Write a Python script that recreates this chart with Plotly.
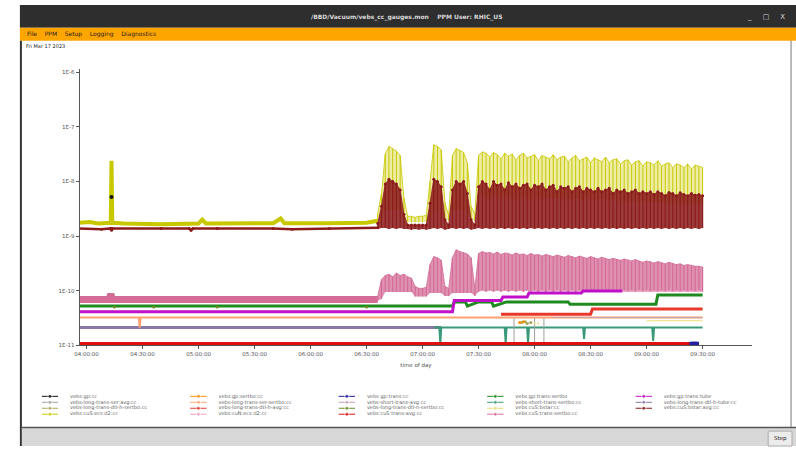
import numpy as np
import pandas as pd
import plotly.graph_objects as go

W, H = 796, 449
BASE = pd.Timestamp("2023-03-17 04:00:00")

# ---------------- data (time in minutes after 04:00) ----------------
grid_dense = np.arange(156, 332, 2)   # 88 decimation buckets (min / max per bucket)

# yellow gauge, units 1e-9
yellow_flat_t = [-4, 2, 6, 12, 13, 13.4, 13.8, 20, 40, 60, 62, 64, 90, 100, 104, 106, 130, 150, 156]
yellow_flat_v = [1.75, 1.8, 1.7, 1.7, 1.75, 24, 1.75, 1.7, 1.65, 1.7, 2.0, 1.7, 1.7, 1.72, 2.1, 1.72, 1.72, 1.75, 1.9]
yellow_hi = [2.6, 6, 32, 44, 40, 36, 30, 5,
             2.3, 2.3, 2.2, 2.3, 2.3, 2.4, 10, 47, 44, 38, 4, 2.4,
             30, 40, 37, 34, 22, 3.5, 2.5,
             30, 35, 33, 28, 34, 31, 26, 33, 29, 32,
             25, 30, 33, 27, 29, 31, 24, 30, 28, 26,
             31, 25, 28, 29, 23, 27, 30, 24, 26, 28,
             22, 27, 25, 23, 28, 22, 25, 26, 21, 24,
             25, 20, 23, 24, 19, 23, 22, 20, 24, 19,
             21, 22, 18, 21, 20, 18, 21, 17, 20, 19,
             18]
yellow_lo = [1.9, 2.0, 3, 3, 3, 3, 3, 2.0,
             1.8, 1.8, 1.8, 1.8, 1.8, 1.8, 2.0, 3, 3, 3, 1.9, 1.9,
             3, 3, 3, 3, 3, 1.9, 1.9,
             5, 5.5, 5, 4.5, 5.5, 5, 4.5, 5.5, 5, 5,
             4.5, 5, 5.5, 5, 4.5, 5, 5, 4.5, 5, 5,
             4.8, 5, 4.5, 5, 4.8, 4.5, 5, 4.8, 4.5, 5,
             4.5, 4.8, 4.5, 5, 4.5, 4.2, 4.8, 4.5, 4.2, 4.5,
             4.2, 4.5, 4.2, 4, 4.5, 4.2, 4, 4.2, 4, 4.2,
             4, 3.8, 4.2, 4, 3.8, 4, 3.8, 4, 3.8, 3.8,
             3.8]

# maroon gauge, units 1e-9
maroon_flat_t = [-4, 8, 13, 13.4, 13.8, 40, 55, 56, 57, 70, 100, 110, 130, 156]
maroon_flat_v = [1.38, 1.33, 1.38, 1.28, 1.38, 1.38, 1.38, 1.28, 1.38, 1.38, 1.38, 1.33, 1.38, 1.42]
maroon_hi = [1.7, 3.5, 9, 11, 10, 9, 7, 2.5,
             1.6, 1.6, 1.6, 1.6, 1.6, 1.6, 4, 11, 10, 8, 2, 1.6,
             7, 10, 9, 10, 6, 2, 1.6,
             8, 10, 9, 7, 10, 8.5, 9, 7, 9.5, 8,
             9, 7.5, 8.5, 9, 7, 8.5, 8, 9, 7, 8,
             8.5, 6.5, 8, 7.5, 8, 6.5, 7.5, 8, 6.5, 7.5,
             7, 6.5, 7.5, 6.5, 7, 7.5, 6, 7, 6.5, 7,
             6, 6.5, 7, 6, 6.5, 6, 6.5, 5.8, 6.5, 6,
             5.5, 6.3, 6, 5.5, 6.2, 5.8, 5.5, 6, 5.6, 5.8,
             5.5]
maroon_lo = [1.35, 1.4, 1.4, 1.35, 1.4, 1.35, 1.4, 1.35,
             1.35, 1.3, 1.35, 1.3, 1.35, 1.3, 1.35, 1.4, 1.35, 1.4, 1.3, 1.35,
             1.4, 1.35, 1.4, 1.35, 1.4, 1.3, 1.35,
             1.4, 1.35, 1.4, 1.35, 1.4, 1.35, 1.4, 1.35, 1.4, 1.35,
             1.4, 1.35, 1.4, 1.35, 1.4, 1.35, 1.4, 1.35, 1.4, 1.35,
             1.4, 1.35, 1.4, 1.35, 1.4, 1.35, 1.4, 1.35, 1.4, 1.35,
             1.4, 1.35, 1.4, 1.35, 1.4, 1.35, 1.4, 1.35, 1.4, 1.35,
             1.4, 1.35, 1.4, 1.35, 1.4, 1.35, 1.4, 1.35, 1.4, 1.35,
             1.4, 1.35, 1.4, 1.35, 1.4, 1.35, 1.4, 1.35, 1.4, 1.35,
             1.4]

# pink gauge, units 1e-11
pink_flat_t = [-4, 12, 13, 14, 156]
pink_flat_v = [6.9, 6.9, 8.6, 6.9, 6.9]
pink_hi = [8, 16, 19, 20, 18, 21, 19, 20, 18, 17,
           12, 11, 11, 11.5, 30, 42, 40, 36, 12, 11,
           40, 56, 52, 50, 47, 40, 11,
           48, 52, 49, 50, 47, 51, 46, 49, 48, 45,
           49, 46, 47, 44, 48, 45, 46, 43, 46, 44,
           42, 45, 43, 41, 44, 42, 40, 43, 41, 39,
           42, 40, 38, 41, 39, 37, 39, 38, 36, 38,
           36, 35, 37, 35, 33, 35, 34, 32, 34, 32,
           31, 33, 31, 30, 31, 29, 30, 29, 28, 28,
           27]
pink_lo = [6.5, 7, 9.4, 9.4, 9.4, 9.4, 9.4, 9.4, 9.4, 9.4,
           7.8, 7.8, 7.8, 7.8, 9, 9, 9, 9, 8, 8,
           9, 9, 9, 9, 9, 9, 8,
           9.5, 10, 9.5, 10, 9.5, 10, 9.5, 10, 9.5, 10,
           9.5, 10, 9.5, 10, 9.5, 10, 9.5, 10, 9.5, 10,
           9.5, 10, 9.5, 10, 9.5, 10, 9.5, 10, 9.5, 10,
           9.5, 10, 9.5, 10, 9.5, 10, 9.5, 10, 9.5, 10,
           9.5, 10, 9.5, 10, 9.5, 10, 9.5, 10, 9.5, 10,
           9.5, 10, 9.5, 10, 9.5, 10, 9.5, 10, 9.5, 10,
           9.5]

# step-like gauges, units 1e-11
green_t = [-4, 196, 197, 203, 204, 210, 217, 218, 225, 258, 259, 305, 306, 330]
green_v = [5.2, 5.2, 6.2, 6.2, 5.2, 6.2, 6.2, 5.2, 6.2, 6.2, 5.6, 5.6, 8.3, 8.3]
magenta_t = [-4, 196, 197, 222, 223, 236, 237, 265, 266, 287]
magenta_v = [4.1, 4.1, 6.6, 6.6, 7.6, 7.6, 9.0, 9.0, 9.8, 9.8]
salmon_t = [-4, 28, 28.5, 29, 155, 330]
salmon_v = [3.2, 3.2, 2.1, 3.2, 3.2, 3.2]
purple_t = [-4, 190]
purple_v = [2.1, 2.1]
teal_t = [186, 189, 189.5, 190, 224, 224.5, 225, 236, 236.5, 237, 266, 266.5, 267, 303, 303.5, 304, 330]
teal_v = [2.1, 2.1, 1.05, 2.1, 2.1, 1.1, 2.1, 2.1, 1.1, 2.1, 2.1, 1.3, 2.1, 2.1, 1.2, 2.1, 2.1]
red_low_t = [-4, 324]
red_low_v = [1.06, 1.06]
blue_t = [324, 325, 326, 327]
blue_v = [1.06, 1.06, 1.06, 1.06]
red_up_t = [222, 270, 271, 330]
red_up_v = [3.7, 3.7, 4.6, 4.6]
pinklight_t = [287, 330]
pinklight_v = [9.6, 9.6]
lavender_t = [250, 330]
lavender_v = [3.2, 3.2]
gray_t = [229, 229, None, 240, 240, None, 245, 245]
gray_v = [3.2, 1.08, None, 3.2, 1.08, None, 3.2, 1.1]
olive_t = [233, 235, 236, 238]
olive_v = [2.6, 2.7, 2.5, 2.6]
orange_t = [232, 234]
orange_v = [2.6, 2.7]
olivegreen_t = [15, 36, 70, 150]
olivegreen_v = [5.0, 5.0, 5.0, 5.0]
lightyellow_t = [240, 242]
lightyellow_v = [2.5, 2.5]
black_t = [13.4]
black_v = [5.2]
pinksoft_t = [300, 330]
pinksoft_v = [2.8, 2.8]

names = ["vebs:gp:cc", "vebs-long-trans-ser:avg:cc", "vebs-long-trans-dtl-h-sertbo:cc", "vebs:cuS:ecs:d2:cc",
         "vebs:gp:sertbo:cc", "vebs-long-trans-ser-sertbo:cc", "vebs-long-trans-dtl-h-avg:cc", "vebs:cuN:ecs:d2:cc",
         "vebs:gp:trans:cc", "vebs-short-trans-avg:cc", "vebs-long-trans-dtl-n-sertbo:cc", "vebs:cuS:trans-avg:cc",
         "vebs:gp:trans:sertbo", "vebs-short-trans-sertbo:cc", "vebs:cuS:bstar:cc", "vebs:cuS:trans-sertbo:cc",
         "vebs:gp:trans:tube", "vebs-long-trans-dtl-h-tube:cc", "vebs:cuS:bstar:avg:cc"]
colors = ["#111111", "#a0a0a0", "#a8a860", "#c8c800",
          "#ff8c00", "#ffa070", "#e8382c", "#f0a0c0",
          "#2020a0", "#c8a0b0", "#6b8e23", "#e01010",
          "#1f8a1f", "#3a9a78", "#e8e070", "#d46c98",
          "#c010c8", "#8a78a8", "#8b1a1a"]
fills = {3: "rgba(215,215,60,0.45)", 18: "rgba(139,26,26,0.85)", 15: "rgba(212,108,152,0.75)"}


def T(mins):
    return [None if m is None else BASE + pd.Timedelta(minutes=float(m)) for m in mins]


def V(vals, unit):
    return [None if v is None else v * unit for v in vals]


fig = go.Figure()


def series(idx, t, v, unit, width=1, mode="lines", msize=3, symbol="circle"):
    fig.add_trace(go.Scatter(
        x=T(t), y=V(v, unit), mode=mode, name=names[idx], showlegend=False,
        line=dict(color=colors[idx], width=width), connectgaps=False,
        marker=dict(color=colors[idx], size=msize, symbol=symbol),
        xaxis="x", yaxis="y", hoverinfo="skip"))


def envelope(idx, t, lo, hi, unit, stroke=1.0, marks=False):
    """min/max decimated display: filled band plus one vertical stroke per bucket."""
    fig.add_trace(go.Scatter(x=T(t), y=V(lo, unit), mode="lines", line=dict(width=0, color=colors[idx]),
                             showlegend=False, hoverinfo="skip", xaxis="x", yaxis="y"))
    fig.add_trace(go.Scatter(x=T(t), y=V(hi, unit), mode="lines+markers" if marks else "lines",
                             fill="tonexty", fillcolor=fills[idx],
                             marker=dict(size=3, color=colors[idx]),
                             line=dict(width=0.8, color=colors[idx]), showlegend=False, hoverinfo="skip",
                             xaxis="x", yaxis="y"))
    xs, ys = [], []
    for tt, a, b in zip(t, lo, hi):
        xs += [tt, tt, None]
        ys += [a, b, None]
    fig.add_trace(go.Scatter(x=T(xs), y=V(ys, unit), mode="lines", line=dict(width=stroke, color=colors[idx]),
                             connectgaps=False, showlegend=False, hoverinfo="skip", xaxis="x", yaxis="y"))


E9, E11 = 1e-9, 1e-11
series(17, purple_t, purple_v, E11, width=3)
series(13, teal_t, teal_v, E11, width=2)
series(1, gray_t, gray_v, E11, width=1)
series(5, salmon_t, salmon_v, E11, width=2)
series(9, lavender_t, lavender_v, E11, width=1)
series(15, pink_flat_t, pink_flat_v, E11, width=7)
envelope(15, list(grid_dense), pink_lo, pink_hi, E11, stroke=1.2)
series(7, pinklight_t, pinklight_v, E11, width=1)
series(14, pinksoft_t, pinksoft_v, E11, width=1)
series(12, green_t, green_v, E11, width=3)
series(10, olivegreen_t, olivegreen_v, E11, mode="markers", msize=3)
series(16, magenta_t, magenta_v, E11, width=3)
series(6, red_up_t, red_up_v, E11, width=3)
series(2, olive_t, olive_v, E11, mode="lines+markers", width=1, msize=3)
series(4, orange_t, orange_v, E11, mode="markers", msize=3)
series(14, lightyellow_t, lightyellow_v, E11, mode="markers", msize=2)
series(3, yellow_flat_t, yellow_flat_v, E9, width=4)
envelope(3, list(grid_dense), yellow_lo, yellow_hi, E9, stroke=1.0)
series(18, maroon_flat_t, maroon_flat_v, E9, width=2.5, mode="lines+markers", msize=3)
envelope(18, list(grid_dense), maroon_lo, maroon_hi, E9, stroke=1.2, marks=True)
series(0, black_t, black_v, E9, mode="markers", msize=4)
series(11, red_low_t, red_low_v, E11, width=3.5)
series(8, blue_t, blue_v, E11, mode="markers", msize=4, symbol="square")

# ---------------- custom compact legend (5 columns x 4 rows) ----------------
for i, (nm, col) in enumerate(zip(names, colors)):
    c, r = i // 4, i % 4
    fig.add_trace(go.Scatter(
        x=[c, c + 0.055, c + 0.11], y=[r, r, r], mode="lines+markers",
        line=dict(color=col, width=1), marker=dict(color=col, size=[0, 4, 0]),
        xaxis="x2", yaxis="y2", showlegend=False, hoverinfo="skip"))
    fig.add_trace(go.Scatter(
        x=[c + 0.19], y=[r], mode="text", text=[nm], textposition="middle right",
        textfont=dict(size=5, color="#666666", family="DejaVu Sans"),
        xaxis="x2", yaxis="y2", showlegend=False, hoverinfo="skip"))


def px(x):
    return x / W


def py(y):
    return 1 - y / H


NOLINE = dict(width=0)
shapes = [
    dict(type="rect", x0=px(15), x1=1, y0=py(28), y1=py(5), fillcolor="#2e2e2e", line=NOLINE),
    dict(type="rect", x0=px(15), x1=1, y0=py(41), y1=py(28), fillcolor="#ffa500", line=NOLINE),
    dict(type="rect", x0=px(15), x1=px(17), y0=0, y1=py(41), fillcolor="#333333", line=NOLINE),
    dict(type="rect", x0=px(17), x1=1, y0=0, y1=py(431), fillcolor="#d8d8d8", line=NOLINE),
    dict(type="line", x0=px(17), x1=1, y0=py(430.5), y1=py(430.5), line=dict(color="#555555", width=1.5)),
    dict(type="line", x0=px(791), x1=px(791), y0=py(430), y1=py(41), line=dict(color="#777777", width=1)),
    dict(type="rect", x0=px(768), x1=px(792), y0=py(449), y1=py(434), fillcolor="#ececec",
         line=dict(color="#aaaaaa", width=1)),
]
for s in shapes:
    s.update(xref="paper", yref="paper", layer="above")

annos = [
    dict(x=px(405), y=py(17), text="<b>/BBD/Vacuum/vebs_cc_gauges.mon    PPM User: RHIC_US</b>",
         font=dict(size=6, color="#d8d8d8", family="DejaVu Sans")),
    dict(x=px(766), y=py(17), text="_     \u25a1     X", font=dict(size=7, color="#d8d8d8", family="DejaVu Sans")),
    dict(x=px(20), y=py(34.5), text="File    PPM    Setup    Logging    Diagnostics", xanchor="left",
         font=dict(size=6, color="#222222", family="DejaVu Sans")),
    dict(x=px(19), y=py(46.5), text="Fri Mar 17 2023", xanchor="left",
         font=dict(size=5, color="#222222", family="DejaVu Sans")),
    dict(x=px(780), y=py(441.5), text="Step", font=dict(size=5.5, color="#222222", family="DejaVu Sans")),
]
for a in annos:
    a.update(xref="paper", yref="paper", showarrow=False)
    a.setdefault("xanchor", "center")
    a["yanchor"] = "middle"

fig.update_layout(
    width=W, height=H, margin=dict(l=0, r=0, t=0, b=0), autosize=False,
    paper_bgcolor="white", plot_bgcolor="white", showlegend=False,
    shapes=shapes, annotations=annos,
    xaxis=dict(
        type="date", domain=[px(75), px(752)],
        range=[BASE + pd.Timedelta(minutes=-3.73), BASE + pd.Timedelta(minutes=356.6)],
        tick0=BASE, dtick=30 * 60 * 1000, tickformat="%H:%M:%S",
        showline=True, linecolor="#555555", linewidth=1, ticks="outside", ticklen=3,
        tickcolor="#555555", tickfont=dict(size=5.5, color="#555555", family="DejaVu Sans"),
        showgrid=False, zeroline=False, anchor="y",
        title=dict(text="time of day", font=dict(size=5.5, color="#555555", family="DejaVu Sans"), standoff=7),
    ),
    yaxis=dict(
        type="log", domain=[py(347.5), py(69)], range=[-11, -5.93],
        tickvals=[1e-11, 1e-10, 1e-9, 1e-8, 1e-7, 1e-6],
        ticktext=["1E-11", "1E-10", "1E-9", "1E-8", "1E-7", "1E-6"],
        showline=True, linecolor="#555555", linewidth=1, ticks="outside", ticklen=3,
        tickcolor="#555555", tickfont=dict(size=5.5, color="#555555", family="DejaVu Sans"),
        showgrid=False, zeroline=False, anchor="x",
    ),
    xaxis2=dict(domain=[px(37), px(784)], range=[0, 5], visible=False, anchor="y2", fixedrange=True),
    yaxis2=dict(domain=[py(420), py(396)], range=[3.5, -0.5], visible=False, anchor="x2", fixedrange=True),
)

fig.write_html("out.html", config={"displayModeBar": False, "staticPlot": True},
               post_script="document.body.style.margin='0';document.body.style.padding='0';"
                           "document.documentElement.style.overflow='hidden';")
